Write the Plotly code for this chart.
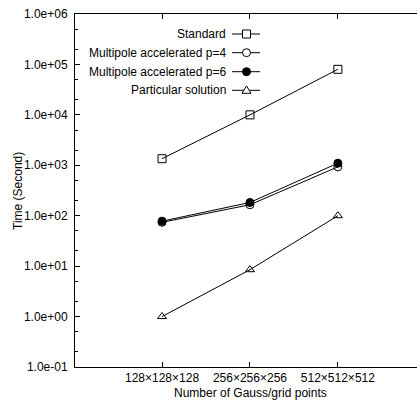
import plotly.graph_objects as go

# ---- data ----
categories = ["128×128×128", "256×256×256", "512×512×512"]
standard = [1350, 10000, 80000]
multipole_p4 = [74, 165, 930]
multipole_p6 = [78, 183, 1100]
particular = [1.0, 8.5, 100]

series_names = ["Standard", "Multipole accelerated p=4",
                "Multipole accelerated p=6", "Particular solution"]
series_values = [standard, multipole_p4, multipole_p6, particular]
series_symbols = ["square-open", "circle-open", "circle", "triangle-up-open"]

y_tickvals = [1e-1, 1e0, 1e1, 1e2, 1e3, 1e4, 1e5, 1e6]
y_ticktext = ["1.0e-01", "1.0e+00", "1.0e+01", "1.0e+02",
              "1.0e+03", "1.0e+04", "1.0e+05", "1.0e+06"]
y_minor = [m * 10 ** e for e in range(-1, 6) for m in (2, 5)]

FONT = "Liberation Sans, Arial, Helvetica, sans-serif"
W, H = 417, 401
ML, MR, MT, MB = 75, 0, 14, 34
PW, PH = W - ML - MR, H - MT - MB


def px(xp):
    return (xp - ML) / PW


def py(yp):
    return (H - MB - yp) / PH


fig = go.Figure()

for name, vals, sym in zip(series_names, series_values, series_symbols):
    fig.add_trace(go.Scatter(
        x=categories, y=vals, mode="lines+markers", name=name,
        line=dict(color="black", width=1),
        marker=dict(symbol=sym, size=8, color="black",
                    line=dict(color="black", width=1)),
        showlegend=False, cliponaxis=False,
    ))

# ---- custom legend (text left of sample, as in reference) ----
leg_rows = [34, 52.7, 71.7, 90.3]
leg_text_right = 228
leg_line = (232, 260)
leg_mx = 246.5
r = 4
shapes = []
for name, sym, ry in zip(series_names, series_symbols, leg_rows):
    shapes.append(dict(type="line", xref="paper", yref="paper",
                       x0=px(leg_line[0]), x1=px(leg_line[1]),
                       y0=py(ry), y1=py(ry),
                       line=dict(color="black", width=1)))
    if sym.startswith("square"):
        shapes.append(dict(type="rect", xref="paper", yref="paper",
                           x0=px(leg_mx - r), x1=px(leg_mx + r),
                           y0=py(ry + r), y1=py(ry - r),
                           line=dict(color="black", width=1), fillcolor="white"))
    elif sym.startswith("circle"):
        fill = "white" if sym.endswith("open") else "black"
        shapes.append(dict(type="circle", xref="paper", yref="paper",
                           x0=px(leg_mx - r), x1=px(leg_mx + r),
                           y0=py(ry + r), y1=py(ry - r),
                           line=dict(color="black", width=1), fillcolor=fill))
    else:
        p = "M {} {} L {} {} L {} {} Z".format(
            px(leg_mx - r - 0.5), py(ry + r * 0.75),
            px(leg_mx + r + 0.5), py(ry + r * 0.75),
            px(leg_mx), py(ry - r * 1.1))
        shapes.append(dict(type="path", xref="paper", yref="paper", path=p,
                           line=dict(color="black", width=1), fillcolor="white"))
    fig.add_annotation(x=px(leg_text_right), y=py(ry), xref="paper", yref="paper",
                       text=name, showarrow=False, xanchor="right",
                       yanchor="middle",
                       font=dict(size=12, color="black", family=FONT))

# axis titles
fig.add_annotation(x=px(250), y=py(392.7), xref="paper", yref="paper",
                   text="Number of Gauss/grid points", showarrow=False,
                   xanchor="center", yanchor="middle",
                   font=dict(size=12, color="black", family=FONT))
fig.add_annotation(x=px(18), y=py(191), xref="paper", yref="paper",
                   text="Time (Second)", showarrow=False, textangle=-90,
                   xanchor="center", yanchor="middle",
                   font=dict(size=12, color="black", family=FONT))

fig.update_layout(
    width=W, height=H,
    margin=dict(l=ML, r=MR, t=MT, b=MB, pad=0),
    paper_bgcolor="white", plot_bgcolor="white",
    font=dict(family=FONT, size=12, color="black"),
    shapes=shapes,
    xaxis=dict(
        type="category", categoryorder="array", categoryarray=categories,
        range=[-0.99, 2.9], showline=True, linecolor="black", linewidth=1,
        mirror="ticks", ticks="inside", ticklen=5, tickcolor="black",
        showgrid=False, zeroline=False,
        tickfont=dict(size=12, family=FONT, color="black"),
    ),
    yaxis=dict(
        type="log", range=[-1, 6], showline=True, linecolor="black",
        linewidth=1, mirror=False, ticks="inside", ticklen=5,
        tickcolor="black", tickvals=y_tickvals, ticktext=y_ticktext,
        showgrid=False, zeroline=False, ticklabelstandoff=4,
        tickfont=dict(size=12, family=FONT, color="black"),
        minor=dict(tickmode="array", tickvals=y_minor, ticks="inside",
                   ticklen=3, tickcolor="black", showgrid=False),
    ),
)

fig.write_html("out.html")
